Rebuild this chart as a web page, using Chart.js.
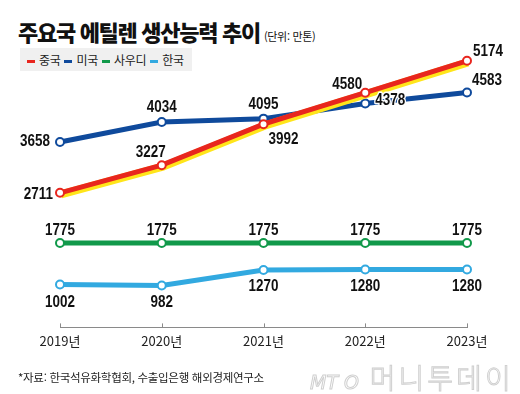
<!DOCTYPE html>
<html lang="ko">
<head>
<meta charset="utf-8">
<script src="https://cdn.jsdelivr.net/npm/chart.js@4.4.1/dist/chart.umd.min.js"></script>
<style>
  html, body { margin: 0; padding: 0; background: #fff; }
  body { width: 520px; height: 394px; position: relative; overflow: hidden; font-family: "Noto Sans CJK KR", sans-serif; }
  #title { position: absolute; left: 18px; top: 15px; font-size: 22px; font-weight: 900; color: #111; letter-spacing: -1.3px; white-space: nowrap; }
  #title small { font-size: 11px; font-weight: 400; letter-spacing: -0.3px; margin-left: 4px; }
  #legend { position: absolute; left: 20px; top: 48px; height: 23px; padding: 0 6px 0 5px; background: #f0f0f0; font-size: 12px; color: #222; white-space: nowrap; line-height: 23px; letter-spacing: -0.3px; }
  #legend span.sw { display: inline-block; width: 8px; height: 3px; margin: 0 4px 0 2px; vertical-align: middle; }
  #legend span.it { margin-right: 2px; }
  #source { position: absolute; left: 18px; top: 369px; font-size: 11.5px; color: #222; letter-spacing: -0.3px; }
  #logo { position: absolute; left: 310px; top: 357px; font-size: 28px; color: #fff; -webkit-text-stroke: 1px #cfcfcf; letter-spacing: 3px; white-space: nowrap; font-weight: 300; }
  #logo i { font-family: "DejaVu Sans", sans-serif; font-size: 19px; letter-spacing: 0; }
  canvas { position: absolute; left: 0; top: 0; }
</style>
</head>
<body>
<div id="title">주요국 에틸렌 생산능력 추이<small>(단위: 만톤)</small></div>
<div id="legend"></div>
<canvas id="chart" width="520" height="394"></canvas>
<div id="source">*자료: 한국석유화학협회, 수출입은행 해외경제연구소</div>
<div id="logo"><i>MT O</i> 머니투데이</div>
<script>
// 데이터
const years = ['2019년', '2020년', '2021년', '2022년', '2023년'];
const seriesNames = ['중국', '미국', '사우디', '한국'];
const china = [2711, 3227, 3992, 4580, 5174];
const usa = [3658, 4034, 4095, 4378, 4583];
const saudi = [1775, 1775, 1775, 1775, 1775];
const korea = [1002, 982, 1270, 1280, 1280];

const colors = ['#e8261e', '#0f4a9c', '#11994a', '#32a9e0'];

// 라벨 위치 (점 기준 dx, dy, 정렬)
const labelPos = [
  [[-7, 2, 'right'], [-11, -13, 'center'], [20, 15, 'center'], [-18, -8, 'center'], [21, -9, 'center']],
  [[-10, 0, 'right'], [0, -14, 'center'], [0, -14, 'center'], [25, -3, 'center'], [20, -12, 'center']],
  [[0, -12, 'center'], [0, -12, 'center'], [0, -12, 'center'], [0, -12, 'center'], [0, -12, 'center']],
  [[0, 18, 'center'], [0, 17, 'center'], [0, 17, 'center'], [0, 17, 'center'], [0, 17, 'center']]
];

// 범례
const legend = document.getElementById('legend');
seriesNames.forEach((name, i) => {
  legend.innerHTML += '<span class="sw" style="background:' + colors[i] + '"></span><span class="it">' + name + '</span>';
});

function lineSet(data, color) {
  return {
    data: data,
    borderColor: color,
    borderWidth: 5,
    pointRadius: 4,
    pointBorderWidth: 2,
    pointBackgroundColor: '#fff',
    pointBorderColor: color,
    tension: 0,
    clip: false
  };
}

const glow = {
  data: china,
  borderColor: '#ffe51a',
  borderWidth: 8,
  pointRadius: 0,
  tension: 0,
  clip: false,
  isGlow: true
};

// 앞쪽 인덱스가 위에 그려짐
const datasets = [
  lineSet(china, colors[0]),
  glow,
  lineSet(usa, colors[1]),
  lineSet(saudi, colors[2]),
  lineSet(korea, colors[3])
];
// datasets 인덱스 -> 라벨 시리즈
const labelMap = { 0: 0, 2: 1, 3: 2, 4: 3 };

const glowShift = {
  id: 'glowShift',
  beforeDatasetDraw(chart, args) {
    if (args.meta._dataset.isGlow) {
      chart.ctx.save();
      chart.ctx.translate(1, 1.5);
    }
  },
  afterDatasetDraw(chart, args) {
    if (args.meta._dataset.isGlow) chart.ctx.restore();
  }
};

const axisTicks = {
  id: 'axisTicks',
  afterDraw(chart) {
    const ctx = chart.ctx;
    const x = chart.scales.x;
    const y = chart.chartArea.bottom;
    ctx.save();
    ctx.strokeStyle = '#8a8a8a';
    ctx.lineWidth = 1;
    x.ticks.forEach((t, i) => {
      const px = Math.round(x.getPixelForTick(i)) + 0.5;
      ctx.beginPath();
      ctx.moveTo(px, y - 4);
      ctx.lineTo(px, y);
      ctx.stroke();
    });
    ctx.restore();
  }
};

const valueLabels = {
  id: 'valueLabels',
  afterDatasetsDraw(chart) {
    const ctx = chart.ctx;
    ctx.save();
    ctx.font = 'bold 16px "Liberation Sans", Arial, sans-serif';
    ctx.fillStyle = '#111';
    ctx.strokeStyle = '#fff';
    ctx.lineWidth = 3;
    ctx.lineJoin = 'round';
    ctx.textBaseline = 'middle';
    Object.keys(labelMap).forEach(di => {
      const s = labelMap[di];
      const meta = chart.getDatasetMeta(+di);
      const values = chart.data.datasets[di].data;
      meta.data.forEach((pt, j) => {
        const p = labelPos[s][j];
        ctx.save();
        ctx.translate(pt.x + p[0], pt.y + p[1]);
        ctx.scale(0.84, 1);
        ctx.textAlign = p[2];
        ctx.strokeText(values[j], 0, 0);
        ctx.fillText(values[j], 0, 0);
        ctx.restore();
      });
    });
    ctx.restore();
  }
};

new Chart(document.getElementById('chart'), {
  type: 'line',
  data: { labels: years, datasets: datasets },
  options: {
    responsive: false,
    animation: false,
    layout: { padding: { left: 60, right: 53, top: 38, bottom: 39 } },
    plugins: { legend: { display: false }, tooltip: { enabled: false } },
    scales: {
      x: {
        offset: false,
        grid: { display: false, drawTicks: false },
        border: { display: true, color: '#8a8a8a', width: 1 },
        ticks: {
          padding: 6,
          color: '#222',
          font: { family: '"Noto Sans CJK KR", sans-serif', size: 13 },
          maxRotation: 0,
          autoSkip: false
        }
      },
      y: { display: false, min: 200, max: 5600 }
    }
  },
  plugins: [glowShift, axisTicks, valueLabels]
});
</script>
</body>
</html>
